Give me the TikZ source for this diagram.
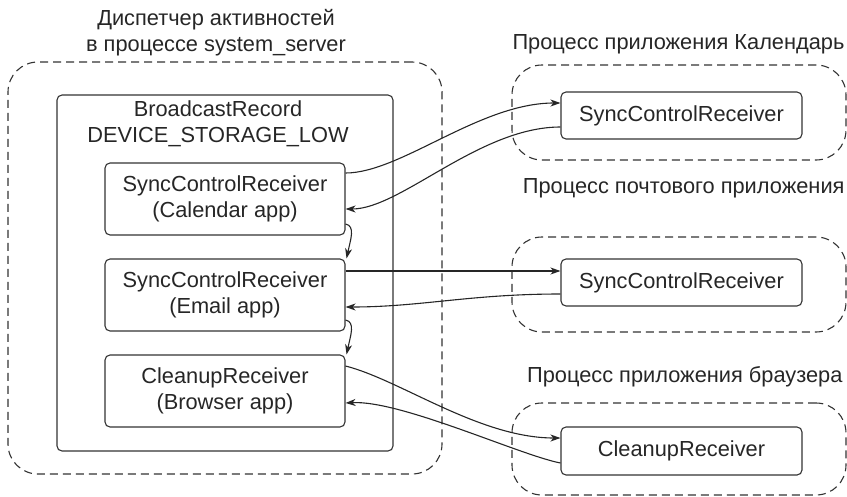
\documentclass[tikz,border=0pt]{standalone}
\usepackage{fontspec}
\setmainfont{Liberation Sans}
\usetikzlibrary{arrows.meta}
\begin{document}
\begin{tikzpicture}[x=1pt,y=-1pt,
 txt/.style={font=\fontsize{21.8}{26}\selectfont, text=black!85, align=center},
 rbox/.style={draw=black!80, line width=1.1pt, rounded corners=5pt, inner sep=0pt, txt},
 dbox/.style={draw=black!80, line width=1.1pt, dash pattern=on 8pt off 5pt, rounded corners=30pt, inner sep=0pt},
 arr/.style={draw=black!85, line width=1.1pt, -{Stealth[length=10pt,width=7pt,inset=3pt]}},
]
\useasboundingbox (0,0) rectangle (847,496);
% left side
\node[txt] (title) at (216,33) {Диспетчер активностей\\в процессе system\_server};
\node[dbox, minimum width=434pt, minimum height=412pt] (outer) at (225,268) {};
\node[rbox, minimum width=336pt, minimum height=356pt] (inner) at (225,273) {};
\node[txt] (brec) at (218,124) {BroadcastRecord\\DEVICE\_STORAGE\_LOW};
\node[rbox, minimum width=240pt, minimum height=72pt] (b1) at (225,199) {SyncControlReceiver\\(Calendar app)};
\node[rbox, minimum width=240pt, minimum height=72pt] (b2) at (225,295) {SyncControlReceiver\\(Email app)};
\node[rbox, minimum width=240pt, minimum height=72pt] (b3) at (225,391) {CleanupReceiver\\(Browser app)};
% right side
\node[txt, anchor=east] (l1) at (848,44) {Процесс приложения Календарь};
\node[dbox, minimum width=334pt, minimum height=95pt] (d1) at (679,112.5) {};
\node[rbox, minimum width=241pt, minimum height=47pt] (r1) at (681.5,115.5) {SyncControlReceiver};
\node[txt, anchor=east] (l2) at (848,188) {Процесс почтового приложения};
\node[dbox, minimum width=334pt, minimum height=95pt] (d2) at (679,284.5) {};
\node[rbox, minimum width=241pt, minimum height=47pt] (r2) at (681.5,282.5) {SyncControlReceiver};
\node[txt, anchor=east] (l3) at (846,377) {Процесс приложения браузера};
\node[dbox, minimum width=334pt, minimum height=92pt] (d3) at (679,449) {};
\node[rbox, minimum width=241pt, minimum height=48pt] (r3) at (681.5,451) {CleanupReceiver};
% connectors
\draw[arr] ([yshift=26pt]b1.east) .. controls +(55,0) and +(-81,0) .. ([yshift=12.5pt]r1.west);
\draw[arr] ([yshift=-11.5pt]r1.west) .. controls +(-81,0) and +(55,0) .. ([yshift=-10pt]b1.east);
\draw[arr] ([yshift=24pt]b2.east) -- ([yshift=11.5pt]r2.west);
\draw[arr] ([yshift=-11.5pt]r2.west) .. controls +(-90,0) and +(75,0) .. ([yshift=-12pt]b2.east);
\draw[arr] ([yshift=25pt]b3.east) .. controls +(55,14) and +(-81,0) .. ([yshift=13pt]r3.west);
\draw[arr] ([yshift=-12pt]r3.west) .. controls +(-41,-8) and +(55,-3) .. ([yshift=-12pt]b3.east);
\draw[arr] ([yshift=-25pt]b1.east) .. controls +(10,2) and +(4,-19) .. ([xshift=1pt]b2.north east);
\draw[arr] ([yshift=-25pt]b2.east) .. controls +(10,2) and +(4,-19) .. ([xshift=1pt]b3.north east);
\end{tikzpicture}
\end{document}
